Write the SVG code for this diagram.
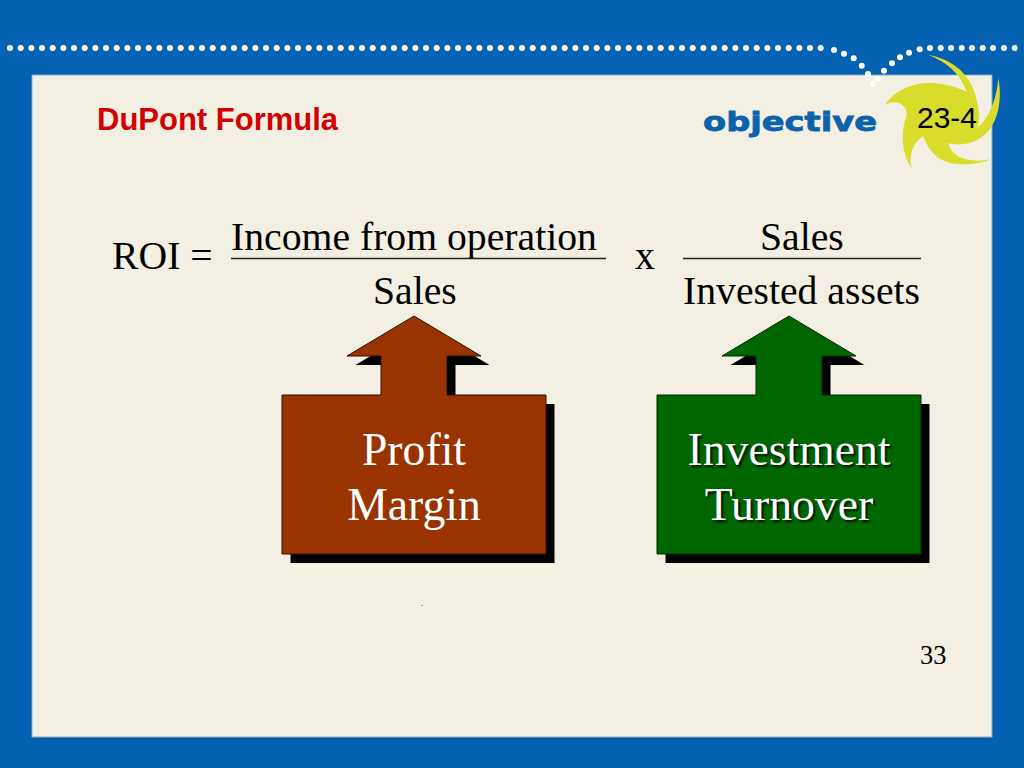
<svg xmlns="http://www.w3.org/2000/svg" width="1024" height="768" viewBox="0 0 1024 768">
<defs>
<style>
.f{font-family:"Liberation Serif","Times New Roman",serif;font-size:39.700px;fill:#000}
.b{font-family:"Liberation Serif","Times New Roman",serif;font-size:45.700px;fill:#fff;text-anchor:middle}
.s{font-family:"Liberation Serif","Times New Roman",serif;font-size:45.700px;fill:#000;text-anchor:middle;filter:url(#soft);opacity:.85}
.l{stroke:#222;stroke-width:1.500}
</style>
<filter id="soft" x="-10%" y="-20%" width="120%" height="140%"><feGaussianBlur stdDeviation="0.800"/></filter>
<path id="arrow" d="M-132 0H-33V-39H-67L0 -79L67 -39H33V0H132V159H-132Z"/>
<circle id="dot" r="3" fill="#fff"/>
</defs>
<rect width="1024" height="768" fill="#0561b1"/>
<rect x="30" y="73" width="964" height="667" fill="#0a5a9f"/>
<rect id="panel" x="32" y="75" width="960" height="662" fill="#f3f0e3" stroke="#7fb3d9" stroke-width="1"/>
<g id="swirl" transform="translate(680 30) scale(.3333)">
<path fill="#d8dc2a" d="M745 75C810 85 880 130 893 225C900 260 900 280 890 295C925 270 950 210 955 145C970 220 950 310 880 335C855 345 825 345 805 340C815 385 870 400 932 388C880 410 800 410 765 375C745 355 735 335 730 318C705 335 685 365 695 415C665 370 660 310 680 255C682 225 650 205 615 225C650 170 740 130 860 185C840 130 800 95 745 75Z"/>
</g>
<text id="title" x="97" y="130" font-family="Liberation Sans,Arial,sans-serif" font-size="31" font-weight="700" fill="#d40000">DuPont Formula</text>
<text id="objective" x="703" y="130.500" font-family="DejaVu Sans,sans-serif" font-size="27" font-weight="700" fill="#0d62ac" stroke="#0d62ac" stroke-width=".8" textLength="174" lengthAdjust="spacingAndGlyphs">objective</text>
<text id="code" x="917" y="128" font-family="Liberation Sans,Arial,sans-serif" font-size="30" fill="#000">23-4</text>
<g id="formula">
<text class="f" x="112" y="269">ROI =</text>
<text class="f" x="231" y="249.500">Income from operation</text>
<text class="f" x="373" y="304">Sales</text>
<text class="f" x="635" y="269">x</text>
<text class="f" x="760" y="249.500">Sales</text>
<text class="f" x="683" y="304">Invested assets</text>
</g>
<g id="connectors">
<line class="l" x1="231" y1="258.500" x2="606" y2="258.500"/>
<line class="l" x1="683" y1="258.500" x2="921" y2="258.500"/>
</g>
<g id="profit-margin">
<use href="#arrow" x="422.500" y="404" fill="#000"/>
<use href="#arrow" x="414" y="395" fill="#993300" stroke="#2a1200"/>
<text class="b" x="414" y="465">Profit</text>
<text class="b" x="414" y="520">Margin</text>
</g>
<g id="investment-turnover">
<use href="#arrow" x="797.500" y="404" fill="#000"/>
<use href="#arrow" x="789" y="395" fill="#006600" stroke="#002a00"/>
<text class="s" x="791" y="467">Investment</text>
<text class="b" x="789" y="465">Investment</text>
<text class="s" x="791" y="522">Turnover</text>
<text class="b" x="789" y="520">Turnover</text>
</g>
<rect id="mark" x="421" y="605" width="2" height="1" fill="#9a9a8c"/>
<text id="page" x="920" y="664" font-family="Liberation Serif,serif" font-size="26.500" fill="#000">33</text>
<g id="dotrow">
<use href="#dot" x="10" y="48"/><use href="#dot" x="20.700" y="48"/><use href="#dot" x="31.400" y="48"/><use href="#dot" x="42" y="48"/><use href="#dot" x="52.700" y="48"/><use href="#dot" x="63.400" y="48"/><use href="#dot" x="74" y="48"/><use href="#dot" x="84.700" y="48"/><use href="#dot" x="95.400" y="48"/><use href="#dot" x="106" y="48"/><use href="#dot" x="116.700" y="48"/><use href="#dot" x="127.400" y="48"/><use href="#dot" x="138" y="48"/><use href="#dot" x="148.700" y="48"/><use href="#dot" x="159.400" y="48"/><use href="#dot" x="170" y="48"/><use href="#dot" x="180.700" y="48"/><use href="#dot" x="191.400" y="48"/><use href="#dot" x="202" y="48"/><use href="#dot" x="212.700" y="48"/><use href="#dot" x="223.400" y="48"/><use href="#dot" x="234" y="48"/><use href="#dot" x="244.700" y="48"/><use href="#dot" x="255.400" y="48"/><use href="#dot" x="266" y="48"/><use href="#dot" x="276.700" y="48"/><use href="#dot" x="287.400" y="48"/><use href="#dot" x="298" y="48"/><use href="#dot" x="308.700" y="48"/><use href="#dot" x="319.400" y="48"/><use href="#dot" x="330" y="48"/><use href="#dot" x="340.700" y="48"/><use href="#dot" x="351.400" y="48"/><use href="#dot" x="362" y="48"/><use href="#dot" x="372.700" y="48"/><use href="#dot" x="383.400" y="48"/><use href="#dot" x="394" y="48"/><use href="#dot" x="404.700" y="48"/><use href="#dot" x="415.400" y="48"/><use href="#dot" x="426" y="48"/><use href="#dot" x="436.700" y="48"/><use href="#dot" x="447.400" y="48"/><use href="#dot" x="458" y="48"/><use href="#dot" x="468.700" y="48"/><use href="#dot" x="479.400" y="48"/><use href="#dot" x="490" y="48"/><use href="#dot" x="500.700" y="48"/><use href="#dot" x="511.400" y="48"/><use href="#dot" x="522" y="48"/><use href="#dot" x="532.700" y="48"/><use href="#dot" x="543.400" y="48"/><use href="#dot" x="554" y="48"/><use href="#dot" x="564.700" y="48"/><use href="#dot" x="575.400" y="48"/><use href="#dot" x="586" y="48"/><use href="#dot" x="596.700" y="48"/><use href="#dot" x="607.400" y="48"/><use href="#dot" x="618" y="48"/><use href="#dot" x="628.700" y="48"/><use href="#dot" x="639.400" y="48"/><use href="#dot" x="650" y="48"/><use href="#dot" x="660.700" y="48"/><use href="#dot" x="671.400" y="48"/><use href="#dot" x="682" y="48"/><use href="#dot" x="692.700" y="48"/><use href="#dot" x="703.400" y="48"/><use href="#dot" x="714" y="48"/><use href="#dot" x="724.700" y="48"/><use href="#dot" x="735.400" y="48"/><use href="#dot" x="746" y="48"/><use href="#dot" x="756.700" y="48"/><use href="#dot" x="767.400" y="48"/><use href="#dot" x="778" y="48"/><use href="#dot" x="788.700" y="48"/><use href="#dot" x="799.400" y="48"/><use href="#dot" x="810" y="48"/><use href="#dot" x="820.700" y="48"/>
<use href="#dot" x="834" y="50"/><use href="#dot" x="844" y="53.700"/><use href="#dot" x="853.700" y="58.300"/><use href="#dot" x="861.700" y="65.700"/><use href="#dot" x="868" y="74"/><use href="#dot" x="872.700" y="84"/><use href="#dot" x="878" y="79"/><use href="#dot" x="884" y="70.700"/><use href="#dot" x="892" y="63.300"/><use href="#dot" x="900" y="57.300"/><use href="#dot" x="909" y="52.700"/><use href="#dot" x="919.700" y="49.300"/><use href="#dot" x="930" y="48"/><use href="#dot" x="940.700" y="48"/><use href="#dot" x="951" y="48"/><use href="#dot" x="961.700" y="48"/><use href="#dot" x="972" y="48"/><use href="#dot" x="982.700" y="48"/><use href="#dot" x="993" y="48"/><use href="#dot" x="1004" y="48"/><use href="#dot" x="1014.700" y="48"/>
</g>
</svg>
